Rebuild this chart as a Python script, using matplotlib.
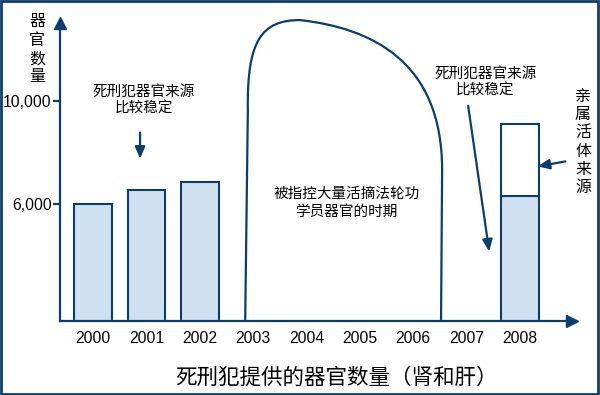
import matplotlib.pyplot as plt
import matplotlib.patches as mpatches
from matplotlib.path import Path

plt.rcParams['font.family'] = ['Noto Sans CJK SC', 'DejaVu Sans']

years = [2000, 2001, 2002, 2003, 2004, 2005, 2006, 2007, 2008]
bar_years = [2000, 2001, 2002, 2008]
prisoner_organs = [6000, 6540, 6840, 6290]
living_donor_year = 2008
living_donor_organs = 2820
y_ticks = [6000, 10000]
y_tick_labels = ['6,000', '10,000']

# outline of the "period" loop, data coordinates (Bezier control points)
loop_pts = [(2002.85, 1450), (2002.90, 9650),
            (2002.88, 12360), (2003.16, 13140), (2003.88, 13140),
            (2005.19, 12830), (2006.54, 11590), (2006.54, 7320),
            (2006.52, 1450)]
loop_codes = [Path.MOVETO, Path.LINETO,
              Path.CURVE4, Path.CURVE4, Path.CURVE4,
              Path.CURVE4, Path.CURVE4, Path.CURVE4,
              Path.LINETO]

navy = '#0c3d6c'
fill = '#cfe0f1'

fig = plt.figure(figsize=(6, 3.95), dpi=100)
ax = fig.add_axes([0.1, 0.187, 0.853, 0.755])

ax.bar(bar_years, prisoner_organs, width=0.7, color=fill, edgecolor=navy, linewidth=1.5, zorder=2)
ax.bar([living_donor_year], [living_donor_organs], width=0.7,
       bottom=[prisoner_organs[-1]], color='white', edgecolor=navy, linewidth=1.5, zorder=2)

ax.set_xlim(1999.38, 2008.97)
ax.set_ylim(1450, 13030)

for s in ['top', 'right']:
    ax.spines[s].set_visible(False)
ax.spines['left'].set_color(navy)
ax.spines['bottom'].set_color(navy)
ax.spines['left'].set_linewidth(1.6)
ax.spines['bottom'].set_linewidth(1.6)

ax.set_xticks(years)
ax.set_xticklabels([str(y) for y in years], family='Liberation Sans', fontsize=11.3)
ax.set_yticks(y_ticks)
ax.set_yticklabels(y_tick_labels, family='Liberation Sans', fontsize=11.3)
ax.tick_params(axis='x', length=0, pad=7)
ax.tick_params(axis='y', length=5, width=1.6, color=navy, pad=1)

# axis arrow heads
ax.plot(1, 0, '>', color=navy, markersize=8, transform=ax.transAxes, clip_on=False)
ax.plot(0, 1, '^', color=navy, markersize=8, transform=ax.transAxes, clip_on=False)

loop = mpatches.PathPatch(Path(loop_pts, loop_codes), facecolor='none', edgecolor=navy,
                          linewidth=1.6, clip_on=False, zorder=3)
ax.add_patch(loop)

ax.text(1998.95, 12000, '器\n官\n数\n量', ha='center', va='center', fontsize=11.5,
        linespacing=1.1, clip_on=False)

ax.text(2000.95, 10000, '死刑犯器官来源\n比较稳定', ha='center', va='center', fontsize=10.5, linespacing=1.2)
ax.annotate('', xy=(2000.88, 7650), xytext=(2000.88, 8880),
            arrowprops=dict(arrowstyle='-|>,head_length=0.7,head_width=0.3', color=navy, lw=1.6))

ax.text(2004.75, 6040, '被指控大量活摘法轮功\n学员器官的时期', ha='center', va='center', fontsize=10.5, linespacing=1.3)

ax.text(2007.35, 10700, '死刑犯器官来源\n比较稳定', ha='center', va='center', fontsize=10.5, linespacing=1.15)
ax.annotate('', xy=(2007.43, 4050), xytext=(2007.02, 9920),
            arrowprops=dict(arrowstyle='-|>,head_length=0.7,head_width=0.3', color=navy, lw=1.6))

ax.text(2009.18, 8400, '亲\n属\n活\n体\n来\n源', ha='center', va='center', fontsize=11.5,
        linespacing=1.1, clip_on=False)
ax.annotate('', xy=(2008.28, 7440), xytext=(2008.9, 7670),
            arrowprops=dict(arrowstyle='-|>,head_length=0.7,head_width=0.3', color=navy, lw=1.6),
            annotation_clip=False)

fig.text(0.56, 0.043, '死刑犯提供的器官数量（肾和肝）', ha='center', va='center', fontsize=15.5,
         fontweight='medium')

border = mpatches.Rectangle((0.002, 0.003), 0.995, 0.994, transform=fig.transFigure,
                            fill=False, edgecolor=navy, linewidth=2)
fig.patches.append(border)

fig.savefig('out.png', dpi=100)
